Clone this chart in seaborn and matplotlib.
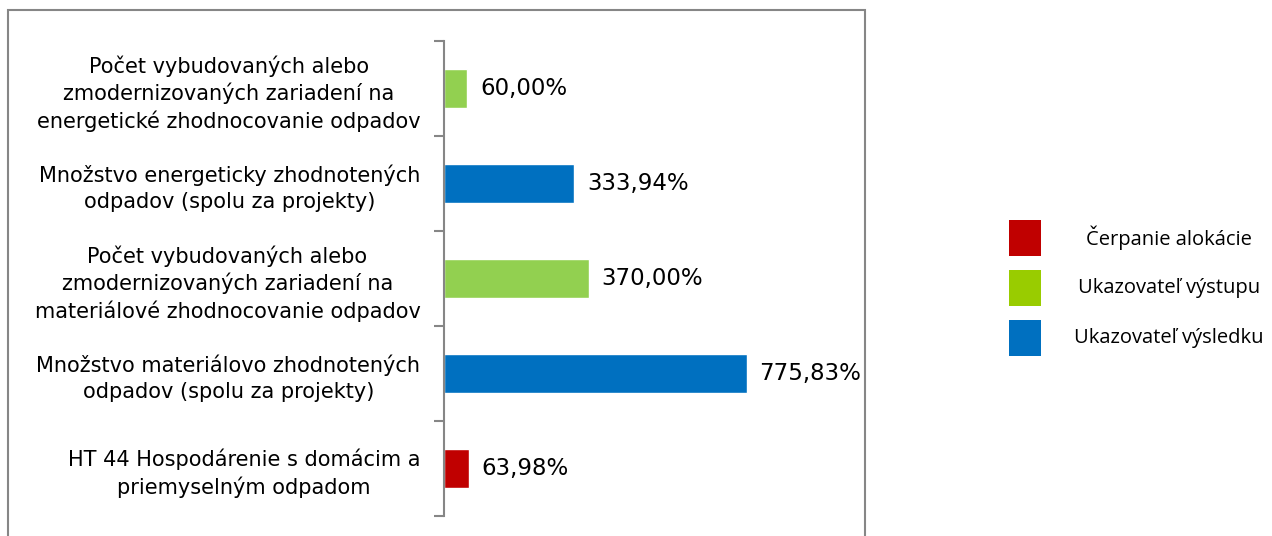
import matplotlib
matplotlib.use("Agg")
import matplotlib.pyplot as plt
import seaborn as sns
import pandas as pd
from matplotlib.patches import Rectangle

categories = [
    "Počet vybudovaných alebo\nzmodernizovaných zariadení na\nenergetické zhodnocovanie odpadov",
    "Množstvo energeticky zhodnotených\nodpadov (spolu za projekty)",
    "Počet vybudovaných alebo\nzmodernizovaných zariadení na\nmateriálové zhodnocovanie odpadov",
    "Množstvo materiálovo zhodnotených\nodpadov (spolu za projekty)",
    "HT 44 Hospodárenie s domácim a\npriemyselným odpadom",
]
values = [60.00, 333.94, 370.00, 775.83, 63.98]
types = ["Ukazovateľ výstupu", "Ukazovateľ výsledku", "Ukazovateľ výstupu",
         "Ukazovateľ výsledku", "Čerpanie alokácie"]
bar_colors = {"Čerpanie alokácie": "#C00000",
              "Ukazovateľ výstupu": "#92D050",
              "Ukazovateľ výsledku": "#0070C0"}
legend_labels = ["Čerpanie alokácie", "Ukazovateľ výstupu", "Ukazovateľ výsledku"]
legend_colors = ["#C00000", "#99CC00", "#0070C0"]

df = pd.DataFrame({"cat": categories, "val": values, "typ": types})

sns.set_theme(style="white")
plt.rcParams["font.family"] = ["DejaVu Sans"]

fig = plt.figure(figsize=(12.72, 5.36), dpi=100)
W, H = 1272, 536
ax = fig.add_axes([444 / W, 20 / H, (834.6 - 444) / W, (516 - 41) / H])

sns.barplot(data=df, x="val", y="cat", hue="typ", palette=bar_colors,
            dodge=False, width=0.41, legend=False, ax=ax, saturation=1)

ax.set_xlim(0, 1000)
ax.set_ylim(4.5, -0.5)
ax.set_xlabel("")
ax.set_ylabel("")
ax.set_xticks([])
for s in ["top", "right", "bottom"]:
    ax.spines[s].set_visible(False)
ax.spines["left"].set_color("#868686")
ax.spines["left"].set_linewidth(1.5)

ax.set_yticks(range(len(categories)))
ax.set_yticklabels(categories, multialignment="center", fontsize=15,
                   color="black", linespacing=1.35)
ax.tick_params(axis="y", which="major", length=0, pad=17)
ax.set_yticks([i - 0.5 for i in range(len(categories) + 1)], minor=True)
ax.tick_params(axis="y", which="minor", length=7, width=1.5, color="#868686", left=True)

for cont in ax.containers:
    labels = [f"{v:.2f}%".replace(".", ",") for v in cont.datavalues]
    ax.bar_label(cont, labels=labels, padding=9, fontsize=16.5, color="black")

# chart area border
fig.add_artist(Rectangle((8 / W, -0.05), (865 - 8) / W, 1.05 - 10 / H,
                         transform=fig.transFigure, fill=False,
                         edgecolor="#868686", linewidth=1.5))

# legend
for i, (lab, col) in enumerate(zip(legend_labels, legend_colors)):
    y0 = 220 + i * 50
    fig.add_artist(Rectangle((1009 / W, 1 - (y0 + 36) / H), 32 / W, 36 / H,
                             transform=fig.transFigure, color=col, linewidth=0))
    fig.text(1169 / W, 1 - (y0 + 18) / H, lab, ha="center", va="center",
             fontsize=14.5, family=["Open Sans", "DejaVu Sans"], color="black")

fig.savefig("out.png", dpi=100)
